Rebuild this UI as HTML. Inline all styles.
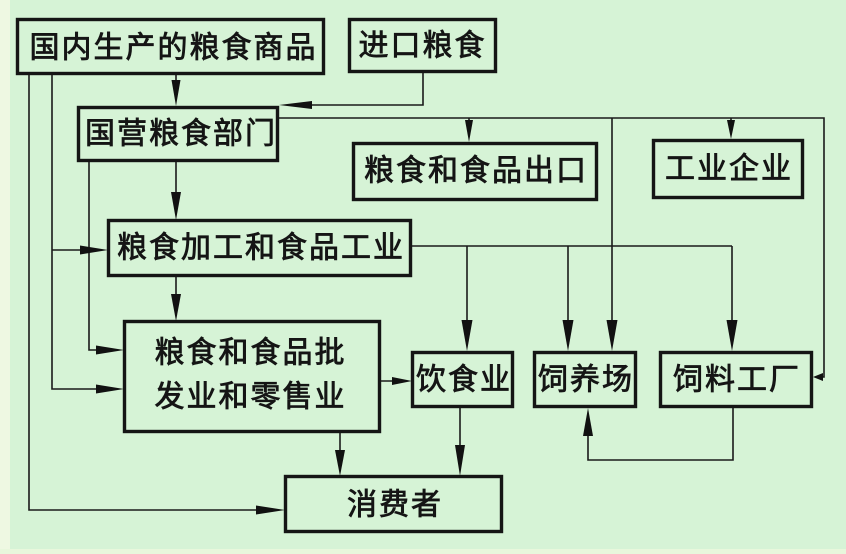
<!DOCTYPE html>
<html><head><meta charset="utf-8">
<style>
html,body{margin:0;padding:0;background:#d7f3d5;}
svg{display:block;}
text{font-family:"Liberation Sans","Noto Sans CJK SC","WenQuanYi Zen Hei",sans-serif;font-size:30px;font-weight:normal;fill:#151515;stroke:#151515;stroke-width:0.8px;letter-spacing:2px;}
</style></head>
<body>
<svg width="846" height="554" viewBox="0 0 846 554" xmlns="http://www.w3.org/2000/svg">
<rect x="0" y="0" width="846" height="554" fill="#d6f3d6"/>
<rect x="0" y="0" width="10" height="554" fill="#eef8e2"/>
<rect x="0" y="549" width="846" height="5" fill="#e8f7dc"/>

<g fill="none" stroke="#151515" stroke-width="3.4">
<rect x="17.5" y="19.5" width="306" height="54"/>
<rect x="349.5" y="19.5" width="146" height="52"/>
<rect x="78.5" y="107.5" width="199" height="53"/>
<rect x="353.5" y="143.5" width="243" height="56"/>
<rect x="653.5" y="140.5" width="149" height="57"/>
<rect x="108.5" y="220.5" width="302" height="55"/>
<rect x="124.5" y="321.5" width="255" height="110"/>
<rect x="412.5" y="352.5" width="100" height="54"/>
<rect x="534.5" y="352.5" width="101" height="54"/>
<rect x="660.5" y="352.5" width="151" height="54"/>
<rect x="285.5" y="476.5" width="216" height="55"/>
</g>

<g fill="none" stroke="#1a1a1a" stroke-width="1.6">
<line x1="176" y1="75" x2="176" y2="100"/>
<polyline points="423,73 423,105 300,105"/>
<polyline points="279,118 824,118 824,377 818,377"/>
<line x1="469" y1="118" x2="469" y2="136"/>
<line x1="731" y1="118" x2="731" y2="134"/>
<line x1="612" y1="118" x2="612" y2="340"/>
<line x1="412" y1="246" x2="732" y2="246"/>
<line x1="467" y1="246" x2="467" y2="340"/>
<line x1="568" y1="246" x2="568" y2="340"/>
<line x1="732" y1="246" x2="732" y2="340"/>
<polyline points="29,75 29,510 270,510"/>
<polyline points="52,75 52,389 110,389"/>
<line x1="52" y1="250" x2="95" y2="250"/>
<polyline points="89,162 89,350 110,350"/>
<line x1="176" y1="162" x2="176" y2="210"/>
<line x1="176" y1="277" x2="176" y2="312"/>
<line x1="381" y1="381" x2="400" y2="381"/>
<line x1="340" y1="433" x2="340" y2="465"/>
<line x1="460" y1="408" x2="460" y2="465"/>
<polyline points="733,408 733,460 588,460 588,420"/>
</g>

<g fill="#111" stroke="none">
<polygon points="171.5,80 180.5,80 176,106"/>
<polygon points="465,120 473,120 469,142"/>
<polygon points="727,120 735,120 731,139"/>
<polygon points="606.5,320 617.5,320 612,351"/>
<polygon points="461.5,320 472.5,320 467,351"/>
<polygon points="562.5,320 573.5,320 568,351"/>
<polygon points="726.5,320 737.5,320 732,351"/>
<polygon points="171,192 181,192 176,220"/>
<polygon points="171,294 181,294 176,321"/>
<polygon points="335,450 345,450 340,476"/>
<polygon points="455,445 465,445 460,476"/>
<polygon points="583,436 593,436 588,408"/>
<polygon points="312,101 312,109 279,105"/>
<polygon points="823,373 823,381 813,377"/>
<polygon points="80,245.5 80,254.5 108,250"/>
<polygon points="96,345.5 96,354.5 124,350"/>
<polygon points="96,384.5 96,393.5 124,389"/>
<polygon points="256,505.5 256,514.5 285,510"/>
<polygon points="392,377 392,385 412,381"/>
</g>

<g text-anchor="middle" dominant-baseline="central">
<text x="173.5" y="48">国内生产的粮食商品</text>
<text x="422.5" y="46">进口粮食</text>
<text x="181" y="134">国营粮食部门</text>
<text x="476" y="171">粮食和食品出口</text>
<text x="729" y="169">工业企业</text>
<text x="261" y="248">粮食加工和食品工业</text>
<text x="250.5" y="353">粮食和食品批</text>
<text x="250.5" y="397">发业和零售业</text>
<text x="464" y="380">饮食业</text>
<text x="586" y="380">饲养场</text>
<text x="737" y="380">饲料工厂</text>
<text x="395" y="505">消费者</text>
</g>
</svg>
</body></html>
